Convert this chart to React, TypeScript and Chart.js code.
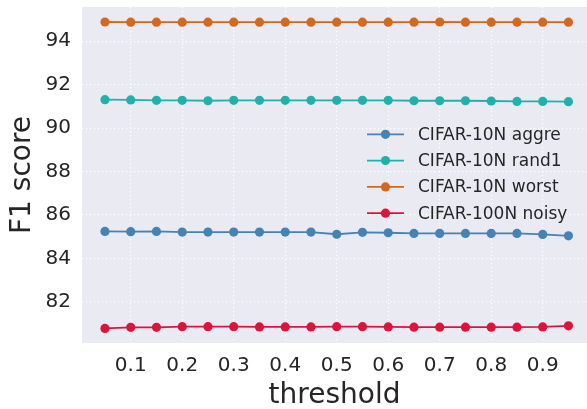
import React, { useEffect, useRef } from "react";
import { Chart, registerables } from "chart.js";

Chart.register(...registerables);

const thresholds = [0.05, 0.1, 0.15, 0.2, 0.25, 0.3, 0.35, 0.4, 0.45, 0.5, 0.55, 0.6, 0.65, 0.7, 0.75, 0.8, 0.85, 0.9, 0.95];
const aggre = [85.24, 85.23, 85.24, 85.21, 85.21, 85.21, 85.21, 85.21, 85.21, 85.11, 85.2, 85.18, 85.15, 85.15, 85.15, 85.15, 85.15, 85.1, 85.04];
const rand1 = [91.31, 91.3, 91.28, 91.28, 91.26, 91.28, 91.28, 91.28, 91.28, 91.28, 91.28, 91.28, 91.26, 91.26, 91.26, 91.25, 91.23, 91.23, 91.22];
const worst = [94.89, 94.88, 94.88, 94.88, 94.88, 94.88, 94.88, 94.88, 94.88, 94.88, 94.88, 94.88, 94.88, 94.89, 94.88, 94.88, 94.88, 94.88, 94.88];
const noisy = [80.77, 80.82, 80.82, 80.85, 80.85, 80.85, 80.84, 80.84, 80.84, 80.85, 80.85, 80.84, 80.83, 80.83, 80.83, 80.83, 80.83, 80.84, 80.89];

const seriesLabels = ["CIFAR-10N aggre", "CIFAR-10N rand1", "CIFAR-10N worst", "CIFAR-100N noisy"];
const seriesColors = ["#4682b4", "#20b2aa", "#d2691e", "#dc143c"];
const xTicks = [0.1, 0.2, 0.3, 0.4, 0.5, 0.6, 0.7, 0.8, 0.9];
const yTicks = [82, 84, 86, 88, 90, 92, 94];

const FONT = "'DejaVu Sans', sans-serif";
const TEXT = "#262626";

const bgPlugin = {
  id: "plotBg",
  beforeDraw(chart: any) {
    const { ctx, chartArea } = chart;
    ctx.save();
    ctx.fillStyle = "#eaeaf2";
    ctx.fillRect(chartArea.left, chartArea.top, chartArea.right - chartArea.left, chartArea.bottom - chartArea.top);
    ctx.restore();
  },
};

const legendPlugin = {
  id: "customLegend",
  afterDraw(chart: any) {
    const { ctx, chartArea } = chart;
    const lineX0 = chartArea.right - 220;
    const lineX1 = chartArea.right - 183;
    const textX = chartArea.right - 169;
    const y0 = chartArea.top + 127.3;
    const step = 26.3;
    ctx.save();
    chart.data.datasets.forEach((ds: any, i: number) => {
      const y = y0 + i * step;
      ctx.strokeStyle = ds.borderColor;
      ctx.lineWidth = 1.8;
      ctx.beginPath();
      ctx.moveTo(lineX0, y);
      ctx.lineTo(lineX1, y);
      ctx.stroke();
      ctx.fillStyle = ds.backgroundColor;
      ctx.beginPath();
      ctx.arc((lineX0 + lineX1) / 2, y, 4.6, 0, Math.PI * 2);
      ctx.fill();
      ctx.fillStyle = TEXT;
      ctx.font = `17px ${FONT}`;
      ctx.textBaseline = "middle";
      ctx.textAlign = "left";
      ctx.fillText(ds.label, textX, y + 1);
    });
    ctx.restore();
  },
};

export default function App() {
  const ref = useRef<HTMLCanvasElement | null>(null);
  useEffect(() => {
    document.body.style.margin = "0";
    const seriesData = [aggre, rand1, worst, noisy];
    const chart = new Chart(ref.current as HTMLCanvasElement, {
      type: "line",
      data: {
        datasets: seriesData.map((vals, i) => ({
          label: seriesLabels[i],
          data: thresholds.map((t, j) => ({ x: t, y: vals[j] })),
          borderColor: seriesColors[i],
          backgroundColor: seriesColors[i],
          pointBackgroundColor: seriesColors[i],
          pointBorderWidth: 0,
          pointRadius: 4.6,
          borderWidth: 1.8,
          tension: 0,
        })),
      },
      options: {
        responsive: false,
        animation: false,
        layout: { autoPadding: false, padding: { top: 7, left: 0, right: 0, bottom: 0 } },
        plugins: { legend: { display: false }, tooltip: { enabled: false } },
        scales: {
          x: {
            type: "linear",
            min: 0.0054,
            max: 0.986,
            afterBuildTicks: (scale: any) => {
              scale.ticks = xTicks.map((v) => ({ value: v }));
            },
            afterFit: (scale: any) => {
              scale.height = 66;
              scale.paddingLeft = 0;
              scale.paddingRight = 0;
            },
            ticks: {
              color: TEXT,
              font: { family: FONT, size: 20 },
              padding: 11,
              maxRotation: 0,
              autoSkip: false,
              callback: (v: any) => String(Math.round(Number(v) * 10) / 10),
            },
            grid: { color: "#ffffff", lineWidth: 1.2, drawTicks: false },
            border: { display: false, dash: [1.2, 2.8] },
            title: {
              display: true,
              text: "threshold",
              color: TEXT,
              font: { family: FONT, size: 28 },
              padding: { top: 0, bottom: -4 },
            },
          },
          y: {
            type: "linear",
            min: 80.1,
            max: 95.58,
            afterBuildTicks: (scale: any) => {
              scale.ticks = yTicks.map((v) => ({ value: v }));
            },
            afterFit: (scale: any) => {
              scale.width = 82;
              scale.paddingTop = 0;
              scale.paddingBottom = 0;
            },
            ticks: {
              color: TEXT,
              font: { family: FONT, size: 20 },
              padding: 11,
              callback: (v: any) => String(v),
            },
            grid: { color: "#ffffff", lineWidth: 1.2, drawTicks: false },
            border: { display: false, dash: [1.2, 2.8] },
            title: {
              display: true,
              text: "F1 score",
              color: TEXT,
              font: { family: FONT, size: 28 },
              padding: { top: 6, bottom: 0 },
            },
          },
        },
      },
      plugins: [bgPlugin, legendPlugin],
    } as any);
    return () => chart.destroy();
  }, []);
  return (
    <div style={{ width: 587, height: 409 }}>
      <canvas ref={ref} width={587} height={409} style={{ width: 587, height: 409 }} />
    </div>
  );
}
